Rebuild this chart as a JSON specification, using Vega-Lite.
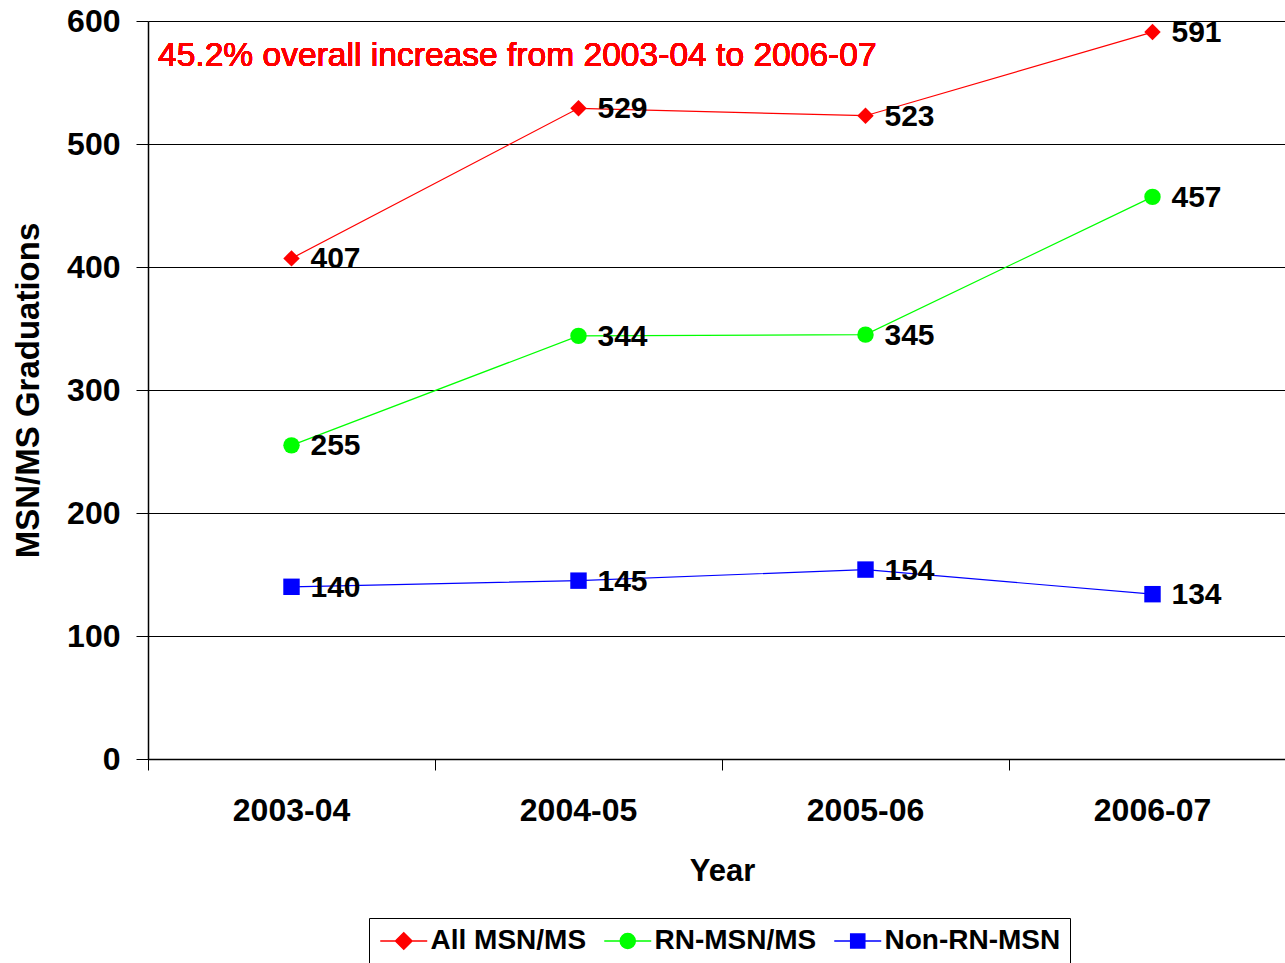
{
  "$schema": "https://vega.github.io/schema/vega-lite/v6.json",
  "autosize": "none",
  "width": 1135,
  "height": 738,
  "padding": {"left": 148, "top": 21, "right": 2, "bottom": 204},
  "background": "white",
  "config": {
    "view": {"stroke": null},
    "font": "Liberation Sans"
  },
  "data": {
    "values": [
      {"series": "All MSN/MS", "year": "2003-04", "value": 407},
      {"series": "All MSN/MS", "year": "2004-05", "value": 529},
      {"series": "All MSN/MS", "year": "2005-06", "value": 523},
      {"series": "All MSN/MS", "year": "2006-07", "value": 591},
      {"series": "RN-MSN/MS", "year": "2003-04", "value": 255},
      {"series": "RN-MSN/MS", "year": "2004-05", "value": 344},
      {"series": "RN-MSN/MS", "year": "2005-06", "value": 345},
      {"series": "RN-MSN/MS", "year": "2006-07", "value": 457},
      {"series": "Non-RN-MSN", "year": "2003-04", "value": 140},
      {"series": "Non-RN-MSN", "year": "2004-05", "value": 145},
      {"series": "Non-RN-MSN", "year": "2005-06", "value": 154},
      {"series": "Non-RN-MSN", "year": "2006-07", "value": 134}
    ]
  },
  "encoding": {
    "x": {
      "field": "year",
      "type": "ordinal",
      "sort": ["2003-04", "2004-05", "2005-06", "2006-07"],
      "scale": {"type": "band", "paddingInner": 0, "paddingOuter": 0, "range": [0, 1148]},
      "axis": {
        "title": "Year",
        "titleFont": "Liberation Sans",
        "titleFontSize": 31,
        "titleFontWeight": "bold",
        "titleColor": "black",
        "titlePadding": 30,
        "labelFont": "Liberation Sans",
        "labelFontSize": 32,
        "labelFontWeight": "bold",
        "labelColor": "black",
        "labelPadding": 25,
        "labelAngle": 0,
        "bandPosition": 0,
        "tickSize": 11,
        "tickColor": "black",
        "tickWidth": 1,
        "domainColor": "black",
        "domainWidth": 1.5,
        "grid": false
      }
    },
    "y": {
      "field": "value",
      "type": "quantitative",
      "scale": {"domain": [0, 600], "nice": false},
      "axis": {
        "title": "MSN/MS Graduations",
        "titleFont": "Liberation Sans",
        "titleFontSize": 33,
        "titleFontWeight": "bold",
        "titleColor": "black",
        "titlePadding": 21,
        "values": [0, 100, 200, 300, 400, 500, 600],
        "labelFont": "Liberation Sans",
        "labelFontSize": 32,
        "labelFontWeight": "bold",
        "labelColor": "black",
        "labelPadding": 16,
        "tickSize": 12,
        "tickColor": "black",
        "domainColor": "black",
        "domainWidth": 1.5,
        "grid": true,
        "gridColor": "black",
        "gridWidth": 1.2,
        "gridOpacity": 1
      }
    }
  },
  "resolve": {
    "scale": {"color": "independent", "shape": "independent", "stroke": "independent"},
    "legend": {"color": "independent", "shape": "independent", "stroke": "independent"}
  },
  "layer": [
    {
      "mark": {"type": "line", "strokeWidth": 1.2},
      "encoding": {
        "color": {
          "field": "series",
          "type": "nominal",
          "scale": {"domain": ["All MSN/MS", "RN-MSN/MS", "Non-RN-MSN"], "range": ["#FF0000", "#00FF00", "#0000FF"]},
          "legend": null
        },
        "detail": {"field": "series"}
      }
    },
    {
      "mark": {"type": "point", "filled": true, "opacity": 1, "size": 270},
      "encoding": {
        "color": {
          "field": "series",
          "type": "nominal",
          "scale": {"domain": ["All MSN/MS", "RN-MSN/MS", "Non-RN-MSN"], "range": ["#FF0000", "#00FF00", "#0000FF"]},
          "legend": null
        },
        "shape": {
          "field": "series",
          "type": "nominal",
          "scale": {"domain": ["All MSN/MS", "RN-MSN/MS", "Non-RN-MSN"], "range": ["diamond", "circle", "square"]},
          "legend": null
        }
      }
    },
    {
      "transform": [{"filter": "datum.value < 0"}],
      "mark": {"type": "point", "filled": true, "opacity": 1, "size": 552, "strokeWidth": 1.5},
      "encoding": {
        "color": {
          "field": "series",
          "type": "nominal",
          "scale": {"domain": ["All MSN/MS", "RN-MSN/MS", "Non-RN-MSN"], "range": ["#FF0000", "#00FF00", "#0000FF"]},
          "legend": {
            "title": null,
            "orient": "none",
            "direction": "horizontal",
            "legendX": 221,
            "legendY": 897,
            "strokeColor": "black",
            "padding": 9,
            "columnPadding": 14,
            "symbolSize": 552,
            "symbolStrokeWidth": 1.5,
            "labelOffset": 24.5,
            "labelFont": "Liberation Sans",
            "labelFontSize": 28,
            "labelFontWeight": "bold",
            "labelColor": "black",
            "labelLimit": 400
          }
        },
        "stroke": {
          "field": "series",
          "type": "nominal",
          "scale": {"domain": ["All MSN/MS", "RN-MSN/MS", "Non-RN-MSN"], "range": ["#FF0000", "#00FF00", "#0000FF"]},
          "legend": {
            "title": null,
            "orient": "none",
            "direction": "horizontal",
            "legendX": 221,
            "legendY": 897,
            "strokeColor": "black",
            "padding": 9,
            "columnPadding": 14,
            "symbolSize": 552,
            "symbolStrokeWidth": 1.5,
            "labelOffset": 24.5,
            "labelFont": "Liberation Sans",
            "labelFontSize": 28,
            "labelFontWeight": "bold",
            "labelColor": "black",
            "labelLimit": 400
          }
        },
        "shape": {
          "field": "series",
          "type": "nominal",
          "scale": {
            "domain": ["All MSN/MS", "RN-MSN/MS", "Non-RN-MSN"],
            "range": [
              "M-1,0H3M1,-0.7L1.7,0L1,0.7L0.3,0Z",
              "M-1,0H3M1.64,0A0.64,0.64,0,1,1,0.36,0A0.64,0.64,0,1,1,1.64,0Z",
              "M-1,0H3M0.4,-0.6H1.6V0.6H0.4Z"
            ]
          },
          "legend": {
            "title": null,
            "orient": "none",
            "direction": "horizontal",
            "legendX": 221,
            "legendY": 897,
            "strokeColor": "black",
            "padding": 9,
            "columnPadding": 14,
            "symbolSize": 552,
            "symbolStrokeWidth": 1.5,
            "labelOffset": 24.5,
            "labelFont": "Liberation Sans",
            "labelFontSize": 28,
            "labelFontWeight": "bold",
            "labelColor": "black",
            "labelLimit": 400
          }
        }
      }
    },
    {
      "mark": {"type": "text", "align": "left", "baseline": "middle", "dx": 19, "dy": 1, "font": "Liberation Sans", "fontSize": 30, "fontWeight": "bold", "color": "black"},
      "encoding": {
        "text": {"field": "value", "type": "quantitative"}
      }
    },
    {
      "mark": {"type": "text", "align": "left", "baseline": "middle", "dx": 10, "font": "Liberation Sans", "fontSize": 33.6, "color": "#FF0000"},
      "encoding": {
        "x": {"datum": "2003-04", "bandPosition": 0},
        "y": {"datum": 571.5},
        "text": {"value": "45.2% overall increase from 2003-04 to 2006-07"}
      }
    }
  ]
}
